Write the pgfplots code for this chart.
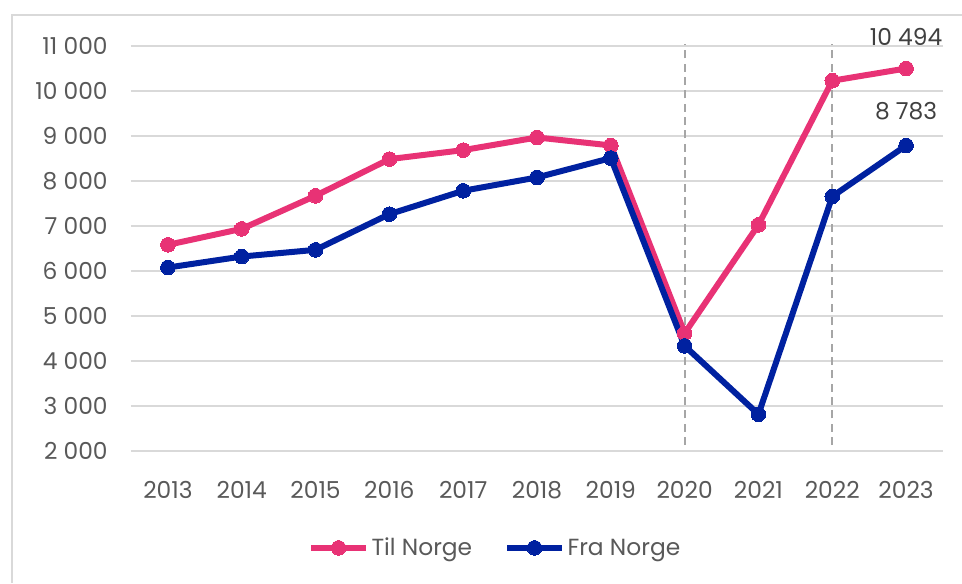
\documentclass[border=0pt]{standalone}
\usepackage{fontspec}
\setmainfont{Poppins}
\usepackage{pgfplots}
\pgfplotsset{compat=1.18}
\definecolor{tilpink}{HTML}{E83275}
\definecolor{franavy}{HTML}{0021A0}
\definecolor{gridgray}{HTML}{D9D9D9}
\definecolor{ticktext}{HTML}{595959}
\definecolor{labtext}{HTML}{404040}

\begin{document}
\begin{tikzpicture}
% page: 962 x 583 px, 1 px = 0.75pt, axis box lower left at px (131,451)
\useasboundingbox (-98.25pt,-99pt) rectangle (623.25pt,338.25pt);
\draw[gridgray, line width=1.5pt] (-89.25pt,-99pt) -- (-89.25pt,327pt) -- (623.25pt,327pt);
\begin{axis}[
  scale only axis,
  width=609pt, height=304pt,
  xmin=-0.5, xmax=10.5,
  ymin=2000, ymax=11000,
  scaled y ticks=false,
  clip=false,
  axis line style={draw=none},
  major tick length=0pt,
  xtick={0,...,10},
  xticklabels={2013,2014,2015,2016,2017,2018,2019,2020,2021,2022,2023},
  ytick={2000,3000,...,11000},
  yticklabels={2 000,3 000,4 000,5 000,6 000,7 000,8 000,9 000,10 000,11 000},
  ymajorgrids,
  grid style={gridgray, line width=1.5pt},
  tick label style={font=\fontsize{17.5}{20}\selectfont, text=ticktext},
  xticklabel style={yshift=-19pt},
  yticklabel style={xshift=-14pt},
  legend style={draw=none, fill=none, at={(0.449,-0.239)}, anchor=center,
    legend columns=2, font=\fontsize{17.5}{20}\selectfont, text=ticktext,
    /tikz/every even column/.append style={column sep=22pt}},
  legend image code/.code={
    \draw[#1, mark repeat=2, mark phase=2] plot coordinates {(0pt,0pt) (20.5pt,0pt) (41pt,0pt)};
  },
]
\addplot[forget plot, draw=black!35, line width=1.4pt, dash pattern=on 6pt off 4pt]
  coordinates {(7,2130) (7,11030)};
\addplot[forget plot, draw=black!35, line width=1.4pt, dash pattern=on 6pt off 4pt]
  coordinates {(9,2130) (9,11030)};
\addplot[tilpink, line width=4.5pt, mark=*, mark size=5.5pt, mark options={fill=tilpink, draw=tilpink, line width=0pt}]
  coordinates {(0,6578) (1,6933) (2,7667) (3,8481) (4,8681) (5,8962) (6,8785) (7,4615) (8,7022) (9,10222) (10,10494)};
\addplot[franavy, line width=4.5pt, mark=*, mark size=5.5pt, mark options={fill=franavy, draw=franavy, line width=0pt}]
  coordinates {(0,6074) (1,6318) (2,6467) (3,7259) (4,7778) (5,8074) (6,8504) (7,4333) (8,2815) (9,7652) (10,8783)};
\legend{Til Norge, Fra Norge}
\node[text=labtext, font=\fontsize{17.5}{20}\selectfont] at ([yshift=24pt]axis cs:10,10494) {10 494};
\node[text=labtext, font=\fontsize{17.5}{20}\selectfont] at ([yshift=26pt]axis cs:10,8783) {8 783};
\end{axis}
\end{tikzpicture}
\end{document}
